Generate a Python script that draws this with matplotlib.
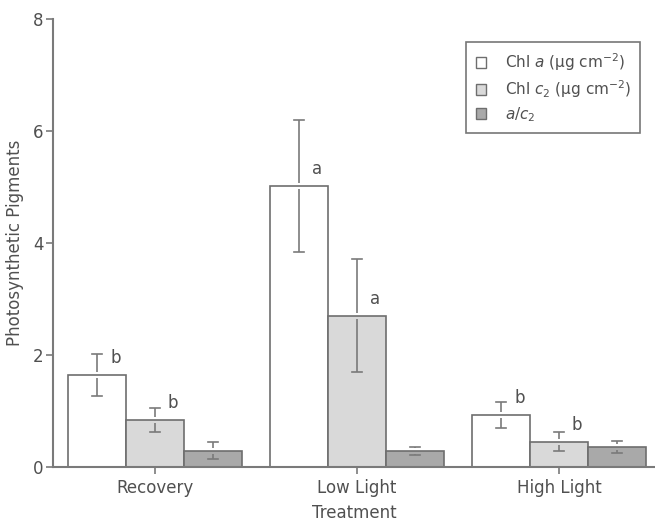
import numpy as np
import matplotlib
matplotlib.use("Agg")
import matplotlib.pyplot as plt
from matplotlib.patches import Patch

plt.rcParams['font.family'] = ['DejaVu Sans']
plt.rcParams['mathtext.fontset'] = 'dejavusans'

# Datos: medias y desviaciones por tratamiento
tratamientos = ['Recovery', 'Low Light', 'High Light']
chl_a = [1.64, 5.02, 0.93]
chl_a_err = [0.38, 1.18, 0.23]
chl_c2 = [0.84, 2.70, 0.45]
chl_c2_err = [0.22, 1.01, 0.17]
ratio_ac2 = [0.29, 0.28, 0.36]
ratio_ac2_err = [0.15, 0.07, 0.11]

# Letras de significancia (None = sin letra)
letras_a = ['b', 'a', 'b']
letras_c2 = ['b', 'a', 'b']

series = [
    (chl_a, chl_a_err, letras_a, 'white', r'Chl $a$ (µg cm$^{-2}$)'),
    (chl_c2, chl_c2_err, letras_c2, '#d9d9d9', r'Chl $c_2$ (µg cm$^{-2}$)'),
    (ratio_ac2, ratio_ac2_err, [None] * 3, '#a9a9a9', r'$a/c_2$'),
]

gris = '#7a7a7a'
texto = '#505050'
borde = '#6e6e6e'
ancho = 0.287
hueco = 0.055

fig = plt.figure(figsize=(6.55, 5.24), dpi=100)
ax = fig.add_axes([0.081, 0.109, 0.919, 0.855])

x = np.arange(len(tratamientos))
for i, (vals, errs, letras, color, etiqueta) in enumerate(series):
    pos = x + (i - 1) * ancho
    ax.bar(pos, vals, ancho, color=color, edgecolor=borde, linewidth=1.2,
           label=etiqueta, zorder=2)
    vals = np.array(vals)
    errs = np.array(errs)
    # barras de error cortadas alrededor del borde superior
    ax.vlines(pos, vals + hueco, vals + errs, color=gris, linewidth=1.2, zorder=3)
    ax.vlines(pos, vals - errs, vals - hueco, color=gris, linewidth=1.2, zorder=3)
    for p, v, e in zip(pos, vals, errs):
        ax.plot([p - 0.025, p + 0.025], [v + e, v + e], color=gris, lw=1.2, zorder=3)
        ax.plot([p - 0.025, p + 0.025], [v - e, v - e], color=gris, lw=1.2, zorder=3)
    for p, v, l in zip(pos, vals, letras):
        if l:
            ax.text(p + 0.09, v + 0.3, l, ha='center', va='center',
                    fontsize=12, color=texto)

ax.set_xlim(-0.505, 2.475)
ax.set_ylim(0, 8)
ax.set_yticks([0, 2, 4, 6, 8])
ax.set_xticks(x)
ax.set_xticklabels(tratamientos)
ax.tick_params(colors=gris, labelcolor=texto, labelsize=12, length=5, width=1.2)
ax.tick_params(axis='y', pad=2)

for lado in ['top', 'right']:
    ax.spines[lado].set_visible(False)
for lado in ['left', 'bottom']:
    ax.spines[lado].set_color(gris)
    ax.spines[lado].set_linewidth(1.5)

ax.set_ylabel('Photosynthetic Pigments', fontsize=12, color=texto, labelpad=6)
ax.set_xlabel('Treatment', fontsize=12, color=texto, labelpad=5)

manejadores = [Patch(facecolor=c, edgecolor=borde, label=l) for _, _, _, c, l in series]
leg = ax.legend(handles=manejadores, loc='upper right', bbox_to_anchor=(0.975, 0.949),
                borderaxespad=0, fontsize=11, frameon=True, fancybox=False,
                handlelength=0.7, handleheight=0.7, handletextpad=1.2,
                borderpad=0.6, labelspacing=0.35)
leg.get_frame().set_edgecolor('#555555')
leg.get_frame().set_linewidth(1.2)
for t in leg.get_texts():
    t.set_color(texto)

plt.savefig('out.png', dpi=100)
